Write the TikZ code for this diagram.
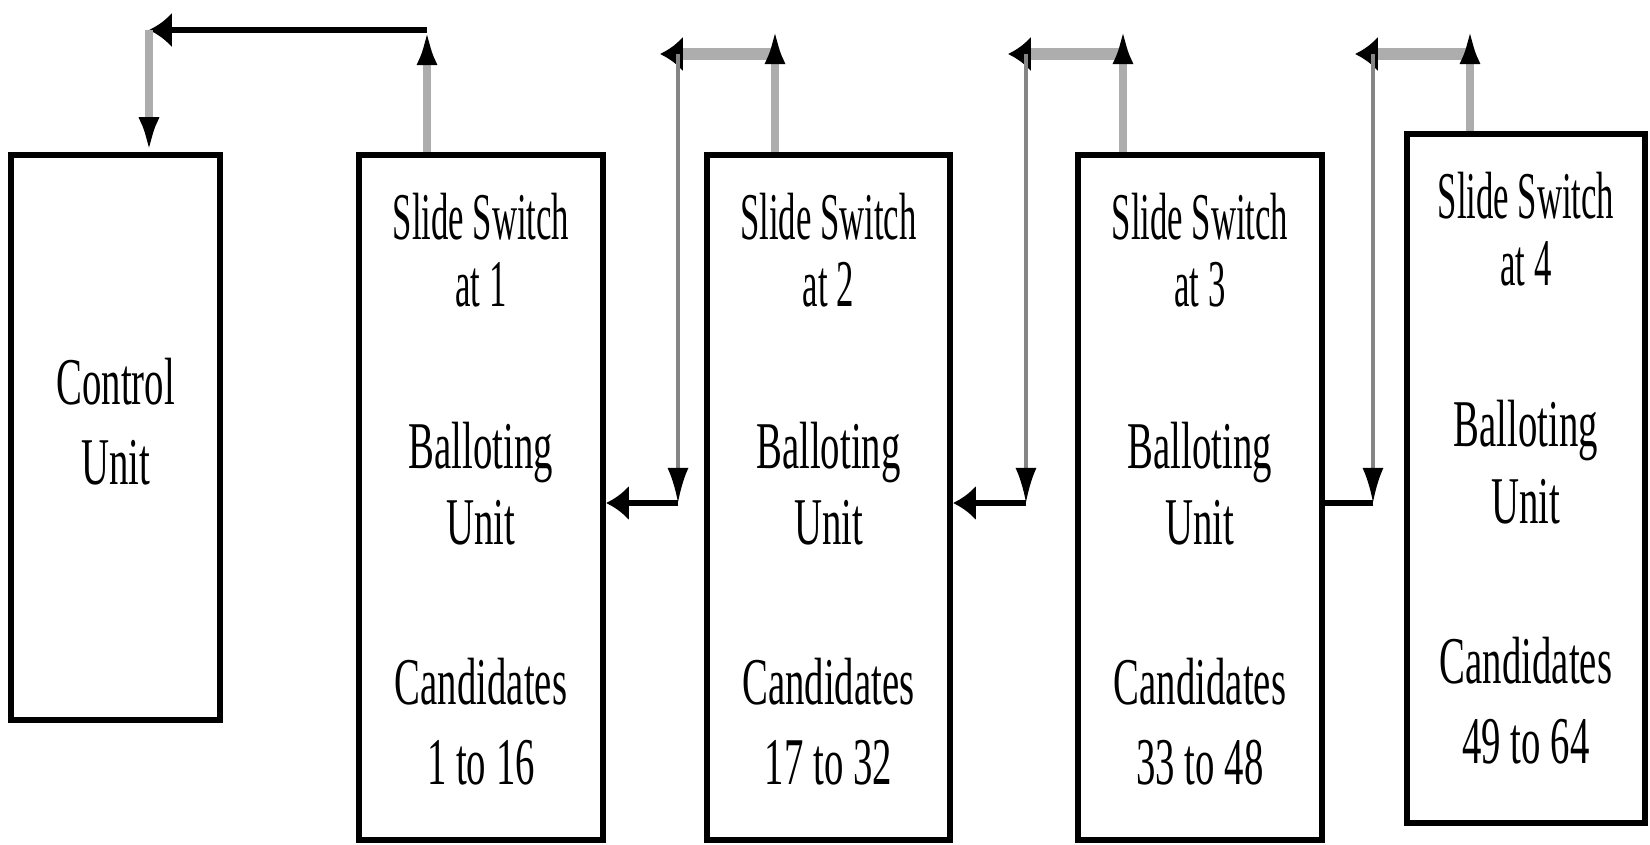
\documentclass[tikz,border=0pt]{standalone}
\usepackage{fontspec}
\setmainfont{Liberation Serif}[FakeStretch=0.58]
\newfontfamily\switchfont{Liberation Serif}[FakeStretch=0.52]
\usetikzlibrary{arrows.meta}
\usepackage{xcolor}
\definecolor{wiregray}{HTML}{ADADAD}
\definecolor{dropgray}{HTML}{858585}

\begin{document}
\begin{tikzpicture}[
  x=0.01cm, y=-0.01cm,
  unit/.style={draw, line width=1.7pt, inner sep=0pt,
               minimum width=2.44cm, minimum height=6.845cm},
  txt/.style={anchor=base, inner sep=0pt, font=\fontsize{19pt}{19pt}\selectfont},
  swtxt/.style={txt, font=\switchfont\fontsize{19pt}{19pt}\selectfont},
  vtip/.style={-{Latex[length=10pt,width=6pt,color=black]}},
  htip/.style={-{Latex[length=6.5pt,width=10pt,color=black]}},
  wire/.style={draw=wiregray, line width=2pt},
  bar/.style={draw=wiregray, line width=3.3pt},
  drop/.style={draw=dropgray, line width=1.1pt},
  link/.style={draw=black, line width=1.8pt}
]
  \useasboundingbox (0,0) rectangle (1650,845);

  % Units
  \node[unit, minimum width=2.085cm, minimum height=5.645cm] (ctl) at (115.75,437.75) {};
  \node[unit] (b1) at (481,497.75) {};
  \node[unit, minimum width=2.43cm] (b2) at (828.5,497.75) {};
  \node[unit] (b3) at (1200,497.75) {};
  \node[unit, minimum width=2.38cm, minimum height=6.885cm] (b4) at (1526,478.75) {};

  % Control unit text
  \node[txt] (ctl1) at ([yshift=-2.525cm]ctl.north) {Control};
  \node[txt] (ctl2) at ([yshift=-3.315cm]ctl.north) {Unit};

  % Balloting unit 1
  \node[swtxt] (sw1) at ([yshift=-0.875cm]b1.north) {Slide Switch};
  \node[swtxt] (at1) at ([yshift=-1.545cm]b1.north) {at 1};
  \node[txt] (bal1) at ([yshift=-3.155cm]b1.north) {Balloting};
  \node[txt] (un1) at ([yshift=-3.915cm]b1.north) {Unit};
  \node[txt] (cand1) at ([yshift=-5.515cm]b1.north) {Candidates};
  \node[txt] (rng1) at ([yshift=-6.315cm]b1.north) {1 to 16};

  % Balloting unit 2
  \node[swtxt] (sw2) at ([yshift=-0.875cm]b2.north) {Slide Switch};
  \node[swtxt] (at2) at ([yshift=-1.545cm]b2.north) {at 2};
  \node[txt] (bal2) at ([yshift=-3.155cm]b2.north) {Balloting};
  \node[txt] (un2) at ([yshift=-3.915cm]b2.north) {Unit};
  \node[txt] (cand2) at ([yshift=-5.515cm]b2.north) {Candidates};
  \node[txt] (rng2) at ([yshift=-6.315cm]b2.north) {17 to 32};

  % Balloting unit 3
  \node[swtxt] (sw3) at ([yshift=-0.875cm]b3.north) {Slide Switch};
  \node[swtxt] (at3) at ([yshift=-1.545cm]b3.north) {at 3};
  \node[txt] (bal3) at ([yshift=-3.155cm]b3.north) {Balloting};
  \node[txt] (un3) at ([yshift=-3.915cm]b3.north) {Unit};
  \node[txt] (cand3) at ([yshift=-5.515cm]b3.north) {Candidates};
  \node[txt] (rng3) at ([yshift=-6.315cm]b3.north) {33 to 48};

  % Balloting unit 4
  \node[swtxt] (sw4) at ([yshift=-0.875cm]b4.north) {Slide Switch};
  \node[swtxt] (at4) at ([yshift=-1.545cm]b4.north) {at 4};
  \node[txt] (bal4) at ([yshift=-3.155cm]b4.north) {Balloting};
  \node[txt] (un4) at ([yshift=-3.915cm]b4.north) {Unit};
  \node[txt] (cand4) at ([yshift=-5.515cm]b4.north) {Candidates};
  \node[txt] (rng4) at ([yshift=-6.315cm]b4.north) {49 to 64};

  % Unit 1 back to control unit
  \coordinate (tl) at (149,30);
  \coordinate (tr) at (427,30);
  \draw[wire, vtip] (tr |- b1.north) -- (tr);
  \draw[link, htip] (tr) -- (tl);
  \draw[wire, vtip] (tl) -- (tl |- ctl.north);

  % Unit 2 to unit 1
  \coordinate (up1) at (775,29);
  \coordinate (dn1) at (678,54);
  \coordinate (cn1) at (678,503);
  \draw[bar, htip] (up1 |- dn1) -- ([xshift=-0.18cm]dn1);
  \draw[wire, vtip] (up1 |- b2.north) -- (up1);
  \draw[link, htip] (cn1) -- (cn1 -| b1.east);
  \draw[drop, vtip] (dn1) -- (cn1);

  % Unit 3 to unit 2
  \coordinate (up2) at (1123,29);
  \coordinate (dn2) at (1026,54);
  \coordinate (cn2) at (1026,503);
  \draw[bar, htip] (up2 |- dn2) -- ([xshift=-0.18cm]dn2);
  \draw[wire, vtip] (up2 |- b3.north) -- (up2);
  \draw[link, htip] (cn2) -- (cn2 -| b2.east);
  \draw[drop, vtip] (dn2) -- (cn2);

  % Unit 4 to unit 3
  \coordinate (up3) at (1470,29);
  \coordinate (dn3) at (1373,54);
  \coordinate (cn3) at (1373,503);
  \draw[bar, htip] (up3 |- dn3) -- ([xshift=-0.18cm]dn3);
  \draw[wire, vtip] (up3 |- b4.north) -- (up3);
  \draw[link] (cn3) -- (cn3 -| b3.east);
  \draw[drop, vtip] (dn3) -- (cn3);
\end{tikzpicture}
\end{document}
